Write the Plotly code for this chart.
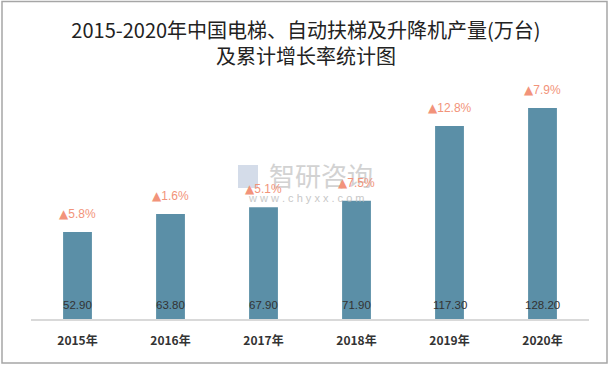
import plotly.graph_objects as go

years = ["2015年", "2016年", "2017年", "2018年", "2019年", "2020年"]
output = [52.90, 63.80, 67.90, 71.90, 117.30, 128.20]
growth = ["5.8%", "1.6%", "5.1%", "7.5%", "12.8%", "7.9%"]

W, H = 612, 368
L, R, T, B = 31, 23, 80, 49
pw, ph = W - L - R, H - T - B

def px_x(x):
    return (x - L) / pw
def px_y(y):
    return 1 - (y - T) / ph

fig = go.Figure()
fig.add_trace(go.Bar(x=years, y=output, width=0.31, marker=dict(color="#5B8FA7", line=dict(width=0)),
                     hoverinfo="skip"))

# watermark (drawn first so labels sit on top)
fig.add_annotation(xref="paper", yref="paper", x=px_x(321), y=px_y(174), text="智研咨询", showarrow=False,
                   font=dict(family="Noto Sans CJK SC", size=26, color="#C4C4C4"), opacity=0.75)
fig.add_annotation(xref="paper", yref="paper", x=px_x(306), y=px_y(198), text="w w w . c h y x x . c o m", showarrow=False,
                   font=dict(family="Liberation Sans, Arial", size=11, color="#B5B5B5"), opacity=0.75)
fig.add_shape(type="rect", xref="paper", yref="paper", x0=px_x(238), x1=px_x(258), y0=px_y(188), y1=px_y(165),
              line=dict(width=0), fillcolor="#C9D3E3", opacity=0.8)

for yr, v, g in zip(years, output, growth):
    fig.add_annotation(x=yr, y=v, text="<span style='font-family:DejaVu Sans'>▲</span>" + g,
                       showarrow=False, yanchor="bottom", yshift=9,
                       font=dict(family="Liberation Sans, Arial", size=12, color="#F2937A"))
    fig.add_annotation(x=yr, y=0, text=f"{v:.2f}", showarrow=False, yanchor="bottom", yshift=6,
                       font=dict(family="Liberation Sans, Arial", size=11.5, color="#333333"))

# border
fig.add_shape(type="rect", xref="paper", yref="paper", x0=px_x(2), x1=px_x(607), y0=px_y(363), y1=px_y(1.5),
              line=dict(color="#A6A6A6", width=1.5), fillcolor="rgba(0,0,0,0)", layer="below")

fig.update_layout(
    width=W, height=H,
    margin=dict(l=L, r=R, t=T, b=B),
    paper_bgcolor="white", plot_bgcolor="white",
    showlegend=False,
    title=dict(text="2015-2020年中国电梯、自动扶梯及升降机产量(万台)<br>及累计增长率统计图",
               x=0.5, xanchor="center", y=1 - 38 / H, yanchor="middle",
               font=dict(family="Noto Sans CJK SC", size=20, color="#222222")),
    xaxis=dict(showgrid=False, showline=True, linecolor="#D9D9D9", linewidth=1.5, ticks="",
               ticklabelstandoff=10,
               tickfont=dict(family="Noto Sans CJK SC", size=12, color="#333333", weight="bold"),
               fixedrange=True),
    yaxis=dict(range=[0, ph / 1.646], showgrid=False, showticklabels=False, zeroline=False,
               showline=False, fixedrange=True),
    bargap=0.69,
)
fig.write_html("out.html", config={"displayModeBar": False},
               post_script="document.body.style.margin='0';")
